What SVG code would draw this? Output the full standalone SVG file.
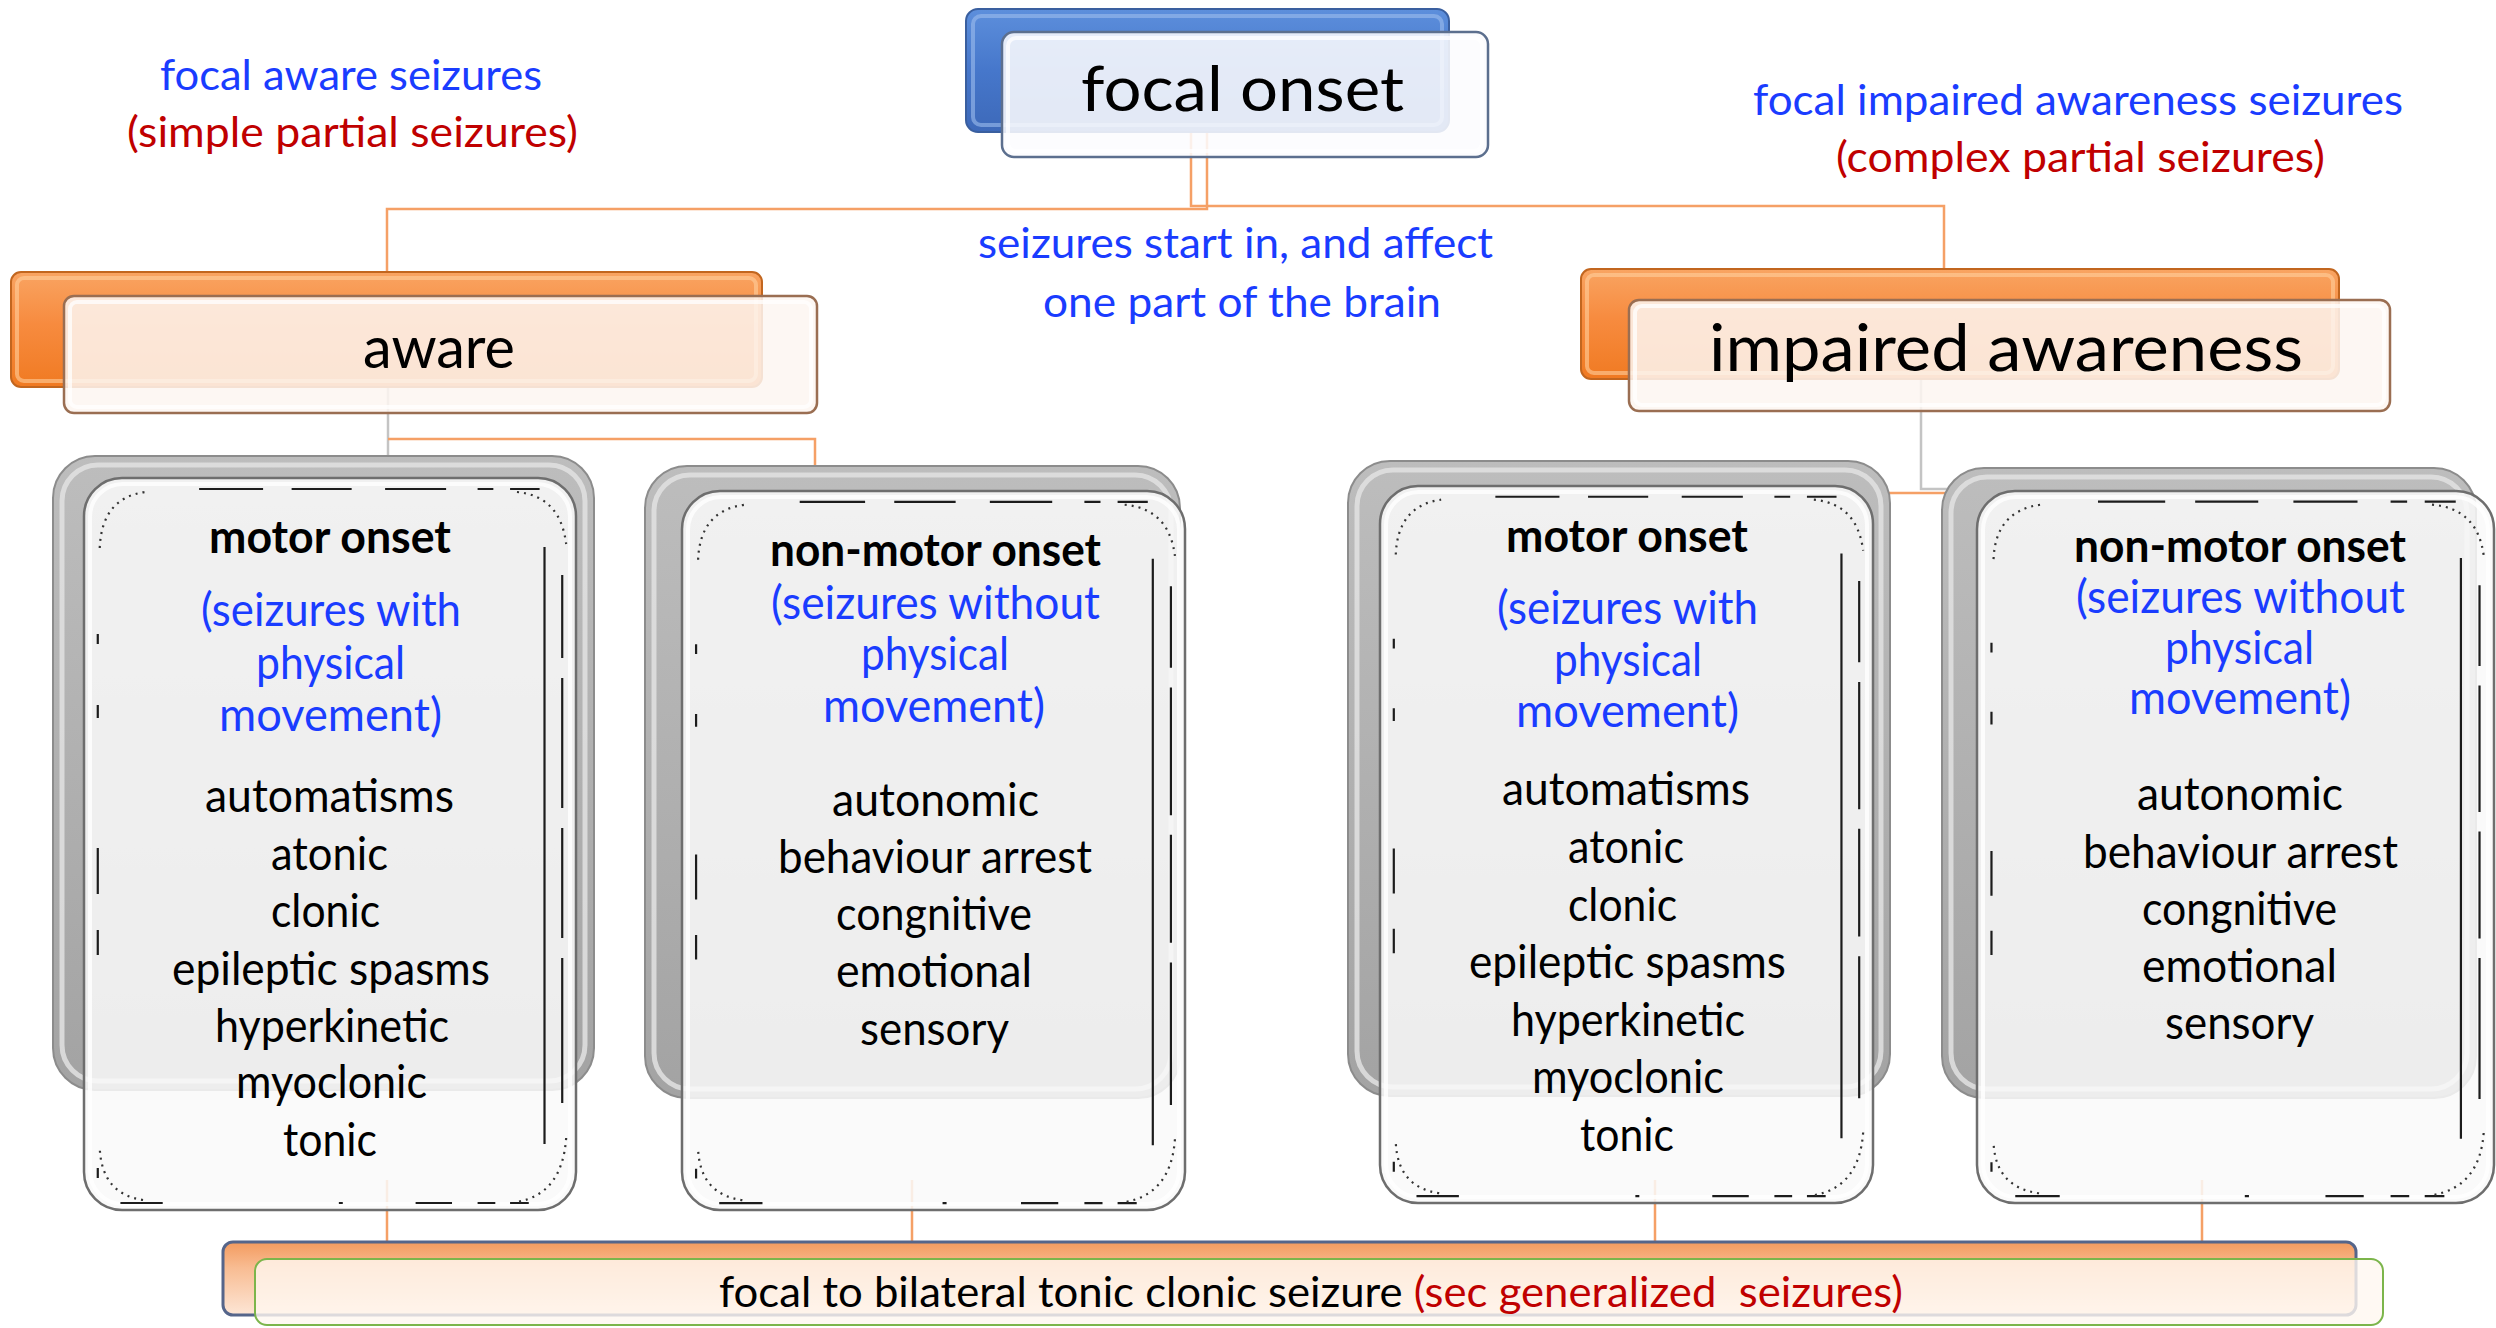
<svg xmlns="http://www.w3.org/2000/svg" xmlns:xlink="http://www.w3.org/1999/xlink" width="2496" height="1328" viewBox="0 0 2496 1328">
  <defs>
    <style>
      .t { font-family: Lato, "Open Sans", "Liberation Sans", sans-serif; fill: #000; }
      .b { font-weight: bold; }
      .blue { fill: #1a3cff; }
      .red { fill: #c00000; }
      .conn-o { fill: none; stroke: #f5a066; stroke-width: 2.5; }
      .conn-g { fill: none; stroke: #c4c4c4; stroke-width: 2.5; }
      .card-back { fill: url(#gGray); stroke: #8c8c8c; stroke-width: 2; }
      .card-bevel { fill: none; stroke: #e2e2e2; stroke-width: 5; opacity: 0.85; }
      .card-front { fill: #f9f9f9; fill-opacity: 0.86; stroke: #6e6e6e; stroke-width: 2.5; }
      .card-hl { fill: none; stroke: #ffffff; stroke-width: 4; opacity: 0.8; }
      .or-back { fill: url(#gOrange); stroke: #c2661f; stroke-width: 2; }
      .or-bevel { fill: none; stroke: #ffcf9c; stroke-width: 4; opacity: 0.6; }
      .or-front { fill: #fdf6f1; fill-opacity: 0.86; stroke: #9a6e52; stroke-width: 2.5; }
      .hl { fill: none; stroke: #ffffff; stroke-width: 4; opacity: 0.75; }
      .dash { fill: none; stroke: #1c1c1c; stroke-width: 2.2; vector-effect: non-scaling-stroke; }
      .speck { fill: none; stroke: #333; stroke-width: 2.2; stroke-dasharray: 2 5; vector-effect: non-scaling-stroke; }
    </style>
    <linearGradient id="gBlue" x1="0" y1="0" x2="0" y2="1">
      <stop offset="0" stop-color="#5d8fdc"/>
      <stop offset="0.5" stop-color="#4677cb"/>
      <stop offset="1" stop-color="#3d69b9"/>
    </linearGradient>
    <linearGradient id="gOrange" x1="0" y1="0" x2="0" y2="1">
      <stop offset="0" stop-color="#f9a462"/>
      <stop offset="0.45" stop-color="#f78b3f"/>
      <stop offset="1" stop-color="#f07a22"/>
    </linearGradient>
    <linearGradient id="gGray" x1="0" y1="0" x2="0" y2="1">
      <stop offset="0" stop-color="#bdbdbd"/>
      <stop offset="1" stop-color="#a3a3a3"/>
    </linearGradient>
    <linearGradient id="gBar" x1="0" y1="0" x2="0" y2="1">
      <stop offset="0" stop-color="#f39a5e"/>
      <stop offset="0.35" stop-color="#f8bc92"/>
      <stop offset="1" stop-color="#fde6d6"/>
    </linearGradient>
    <!-- broken inner outline of the grey cards -->
    <symbol id="cardFrame" viewBox="0 0 500 732" preserveAspectRatio="none">
      <path class="dash" d="M117,11H182 M211,11H272 M306,11H368 M400,11H416 M433,11H463 M468,69V666 M486,97V180 M486,200V330 M486,350V460 M486,480V625 M14,156V166 M14,227V240 M14,370V416 M14,452V477 M14,690V700 M37,725H80 M259,725H263 M337,725H374 M400,725H418 M433,725H452"/>
      <path class="speck" d="M16,70 Q18,20 62,14 M440,14 Q484,18 490,66 M490,660 Q486,716 440,724 M60,722 Q18,716 16,670"/>
    </symbol>
  </defs>

  <rect width="2496" height="1328" fill="#ffffff"/>

  <g id="connectors">
    <path class="conn-o" d="M387,272 V209 H1207 V133"/>
    <path class="conn-o" d="M1191,133 V206 H1944 V270"/>
    <path class="conn-g" d="M388,387 V457"/>
    <path class="conn-o" d="M388,439 H815 V466"/>
    <path class="conn-g" d="M1921,380 V489 H1978"/>
    <path class="conn-o" d="M1875,493 H1980"/>
    <path class="conn-o" d="M387,1180 V1242 M912,1180 V1242 M1655,1180 V1242 M2202,1180 V1242" stroke-width="2"/>
  </g>

  <g id="notes">
    <text class="t blue" x="160" y="90" font-size="43" textLength="382" lengthAdjust="spacingAndGlyphs">focal aware seizures</text>
    <text class="t red" x="127" y="147" font-size="43" textLength="451" lengthAdjust="spacingAndGlyphs">(simple partial seizures)</text>
    <text class="t blue" x="1753" y="115" font-size="42" textLength="650" lengthAdjust="spacingAndGlyphs">focal impaired awareness seizures</text>
    <text class="t red" x="1836" y="172" font-size="42" textLength="489" lengthAdjust="spacingAndGlyphs">(complex partial seizures)</text>
    <text class="t blue" x="978" y="258" font-size="42" textLength="515" lengthAdjust="spacingAndGlyphs">seizures start in, and affect</text>
    <text class="t blue" x="1043" y="317" font-size="42" textLength="398" lengthAdjust="spacingAndGlyphs">one part of the brain</text>
  </g>

  <g id="node-focal-onset">
    <rect x="966" y="9" width="483" height="123" rx="12" fill="url(#gBlue)" stroke="#3a5f9f" stroke-width="2"/>
    <rect x="973" y="16" width="469" height="109" rx="8" fill="none" stroke="#9dbcec" stroke-width="4" opacity="0.6"/>
    <rect x="1002" y="32" width="486" height="125" rx="12" fill="#fbfcfe" fill-opacity="0.87" stroke="#5c6f8e" stroke-width="2.5"/>
    <rect x="1008" y="38" width="474" height="113" rx="8" class="hl"/>
    <text class="t" x="1081" y="111" font-size="62" textLength="323" lengthAdjust="spacingAndGlyphs">focal onset</text>
  </g>

  <g id="node-aware">
    <rect x="11" y="272" width="751" height="115" rx="10" class="or-back"/>
    <rect x="17" y="278" width="739" height="103" rx="7" class="or-bevel"/>
    <rect x="64" y="296" width="753" height="117" rx="10" class="or-front"/>
    <rect x="70" y="302" width="741" height="105" rx="7" class="hl"/>
    <text class="t" x="363" y="368" font-size="58" textLength="152" lengthAdjust="spacingAndGlyphs">aware</text>
  </g>

  <g id="node-impaired-awareness">
    <rect x="1581" y="269" width="758" height="110" rx="10" class="or-back"/>
    <rect x="1587" y="275" width="746" height="98" rx="7" class="or-bevel"/>
    <rect x="1629" y="300" width="761" height="111" rx="10" class="or-front"/>
    <rect x="1635" y="306" width="749" height="99" rx="7" class="hl"/>
    <text class="t" x="1709" y="371" font-size="66" textLength="594" lengthAdjust="spacingAndGlyphs">impaired awareness</text>
  </g>

  <g id="node-aware-motor">
    <rect x="53" y="456" width="541" height="634" rx="42" class="card-back"/>
    <rect x="62" y="465" width="523" height="616" rx="36" class="card-bevel"/>
    <rect x="84" y="478" width="492" height="732" rx="38" class="card-front"/>
    <rect x="90" y="484" width="480" height="720" rx="33" class="card-hl"/>
    <use href="#cardFrame" xlink:href="#cardFrame" x="84" y="478" width="492" height="732"/>
    <text class="t b" x="209" y="553" font-size="46" textLength="242" lengthAdjust="spacingAndGlyphs">motor onset</text>
    <text class="t blue" x="201" y="626" font-size="46" textLength="260" lengthAdjust="spacingAndGlyphs">(seizures with</text>
    <text class="t blue" x="256" y="679" font-size="46" textLength="149" lengthAdjust="spacingAndGlyphs">physical</text>
    <text class="t blue" x="219" y="731" font-size="46" textLength="223" lengthAdjust="spacingAndGlyphs">movement)</text>
    <text class="t" x="205" y="812" font-size="46" textLength="249" lengthAdjust="spacingAndGlyphs">automatisms</text>
    <text class="t" x="271" y="870" font-size="46" textLength="117" lengthAdjust="spacingAndGlyphs">atonic</text>
    <text class="t" x="271" y="927" font-size="46" textLength="109" lengthAdjust="spacingAndGlyphs">clonic</text>
    <text class="t" x="172" y="985" font-size="46" textLength="318" lengthAdjust="spacingAndGlyphs">epileptic spasms</text>
    <text class="t" x="215" y="1042" font-size="46" textLength="234" lengthAdjust="spacingAndGlyphs">hyperkinetic</text>
    <text class="t" x="236" y="1098" font-size="46" textLength="191" lengthAdjust="spacingAndGlyphs">myoclonic</text>
    <text class="t" x="283" y="1156" font-size="46" textLength="94" lengthAdjust="spacingAndGlyphs">tonic</text>
  </g>

  <g id="node-aware-nonmotor">
    <rect x="645" y="466" width="535" height="632" rx="42" class="card-back"/>
    <rect x="654" y="475" width="517" height="614" rx="36" class="card-bevel"/>
    <rect x="682" y="491" width="503" height="719" rx="38" class="card-front"/>
    <rect x="688" y="497" width="491" height="707" rx="33" class="card-hl"/>
    <use href="#cardFrame" xlink:href="#cardFrame" x="682" y="491" width="503" height="719"/>
    <text class="t b" x="770" y="566" font-size="46" textLength="331" lengthAdjust="spacingAndGlyphs">non-motor onset</text>
    <text class="t blue" x="771" y="619" font-size="46" textLength="329" lengthAdjust="spacingAndGlyphs">(seizures without</text>
    <text class="t blue" x="861" y="670" font-size="46" textLength="148" lengthAdjust="spacingAndGlyphs">physical</text>
    <text class="t blue" x="823" y="722" font-size="46" textLength="222" lengthAdjust="spacingAndGlyphs">movement)</text>
    <text class="t" x="832" y="816" font-size="46" textLength="207" lengthAdjust="spacingAndGlyphs">autonomic</text>
    <text class="t" x="778" y="873" font-size="46" textLength="314" lengthAdjust="spacingAndGlyphs">behaviour arrest</text>
    <text class="t" x="836" y="930" font-size="46" textLength="196" lengthAdjust="spacingAndGlyphs">congnitive</text>
    <text class="t" x="836" y="987" font-size="46" textLength="196" lengthAdjust="spacingAndGlyphs">emotional</text>
    <text class="t" x="860" y="1045" font-size="46" textLength="149" lengthAdjust="spacingAndGlyphs">sensory</text>
  </g>

  <g id="node-impaired-motor">
    <rect x="1348" y="461" width="542" height="635" rx="42" class="card-back"/>
    <rect x="1357" y="470" width="524" height="617" rx="36" class="card-bevel"/>
    <rect x="1380" y="486" width="493" height="717" rx="38" class="card-front"/>
    <rect x="1386" y="492" width="481" height="705" rx="33" class="card-hl"/>
    <use href="#cardFrame" xlink:href="#cardFrame" x="1380" y="486" width="493" height="717"/>
    <text class="t b" x="1506" y="552" font-size="46" textLength="242" lengthAdjust="spacingAndGlyphs">motor onset</text>
    <text class="t blue" x="1497" y="624" font-size="46" textLength="261" lengthAdjust="spacingAndGlyphs">(seizures with</text>
    <text class="t blue" x="1554" y="676" font-size="46" textLength="148" lengthAdjust="spacingAndGlyphs">physical</text>
    <text class="t blue" x="1516" y="727" font-size="46" textLength="223" lengthAdjust="spacingAndGlyphs">movement)</text>
    <text class="t" x="1502" y="805" font-size="46" textLength="248" lengthAdjust="spacingAndGlyphs">automatisms</text>
    <text class="t" x="1568" y="863" font-size="46" textLength="116" lengthAdjust="spacingAndGlyphs">atonic</text>
    <text class="t" x="1568" y="921" font-size="46" textLength="109" lengthAdjust="spacingAndGlyphs">clonic</text>
    <text class="t" x="1469" y="978" font-size="46" textLength="317" lengthAdjust="spacingAndGlyphs">epileptic spasms</text>
    <text class="t" x="1511" y="1036" font-size="46" textLength="234" lengthAdjust="spacingAndGlyphs">hyperkinetic</text>
    <text class="t" x="1532" y="1093" font-size="46" textLength="192" lengthAdjust="spacingAndGlyphs">myoclonic</text>
    <text class="t" x="1580" y="1151" font-size="46" textLength="94" lengthAdjust="spacingAndGlyphs">tonic</text>
  </g>

  <g id="node-impaired-nonmotor">
    <rect x="1942" y="468" width="534" height="630" rx="42" class="card-back"/>
    <rect x="1951" y="477" width="516" height="612" rx="36" class="card-bevel"/>
    <rect x="1977" y="491" width="517" height="712" rx="38" class="card-front"/>
    <rect x="1983" y="497" width="505" height="700" rx="33" class="card-hl"/>
    <use href="#cardFrame" xlink:href="#cardFrame" x="1977" y="491" width="517" height="712"/>
    <text class="t b" x="2074" y="562" font-size="46" textLength="332" lengthAdjust="spacingAndGlyphs">non-motor onset</text>
    <text class="t blue" x="2076" y="613" font-size="46" textLength="329" lengthAdjust="spacingAndGlyphs">(seizures without</text>
    <text class="t blue" x="2165" y="664" font-size="46" textLength="149" lengthAdjust="spacingAndGlyphs">physical</text>
    <text class="t blue" x="2129" y="714" font-size="46" textLength="222" lengthAdjust="spacingAndGlyphs">movement)</text>
    <text class="t" x="2137" y="810" font-size="46" textLength="206" lengthAdjust="spacingAndGlyphs">autonomic</text>
    <text class="t" x="2083" y="868" font-size="46" textLength="315" lengthAdjust="spacingAndGlyphs">behaviour arrest</text>
    <text class="t" x="2142" y="925" font-size="46" textLength="195" lengthAdjust="spacingAndGlyphs">congnitive</text>
    <text class="t" x="2142" y="982" font-size="46" textLength="195" lengthAdjust="spacingAndGlyphs">emotional</text>
    <text class="t" x="2165" y="1039" font-size="46" textLength="149" lengthAdjust="spacingAndGlyphs">sensory</text>
  </g>

  <g id="node-bilateral">
    <rect x="223" y="1242" width="2133" height="73" rx="10" fill="url(#gBar)" stroke="#55658a" stroke-width="3"/>
    <rect x="255" y="1259" width="2128" height="66" rx="12" fill="#fff7f0" fill-opacity="0.8" stroke="#7cb54b" stroke-width="2"/>
    <text class="t" x="719" y="1307" font-size="43" textLength="1184" lengthAdjust="spacingAndGlyphs" xml:space="preserve">focal to bilateral tonic clonic seizure <tspan class="red">(sec generalized  seizures)</tspan></text>
  </g>
</svg>
